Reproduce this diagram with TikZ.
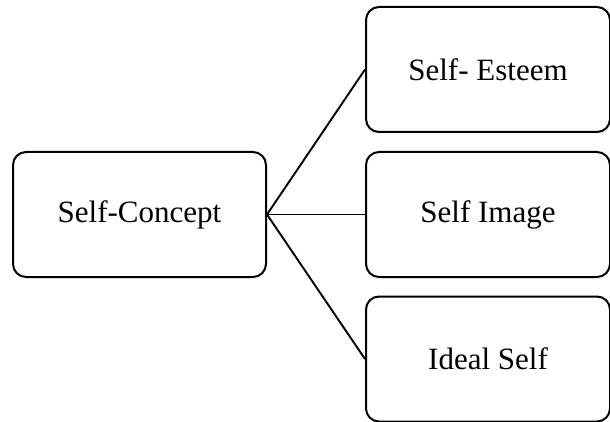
\documentclass[tikz,border=0pt]{standalone}
\usepackage{fontspec}
\setmainfont{Liberation Serif}
\begin{document}
\begin{tikzpicture}[x=1pt,y=1pt,
  box/.style={draw=black, line width=2pt, rounded corners=13pt, rectangle,
    inner sep=0pt, font=\fontsize{31}{36}\selectfont, text=black},
  leftbox/.style={box, minimum width=253pt, minimum height=125pt},
  rightbox/.style={box, minimum width=244pt, minimum height=125pt},
  link/.style={draw=black, line width=1.9pt}]
\useasboundingbox (0,0) rectangle (610,421);
\clip (0,0) rectangle (610,421);
\fill[white] (0,0) rectangle (610,421);
\node[leftbox] (concept) at (139.5,206.5) {Self-Concept};
\node[rightbox] (esteem) at (488,351.5) {Self- Esteem};
\node[rightbox] (image) at (488,206.5) {Self Image};
\node[rightbox] (ideal) at (488,62) {Ideal Self};
\draw[link] (concept.east) -- (esteem.west);
\draw[link] (concept.east) -- (image.west);
\draw[link] (concept.east) -- (ideal.west);
\end{tikzpicture}
\end{document}
